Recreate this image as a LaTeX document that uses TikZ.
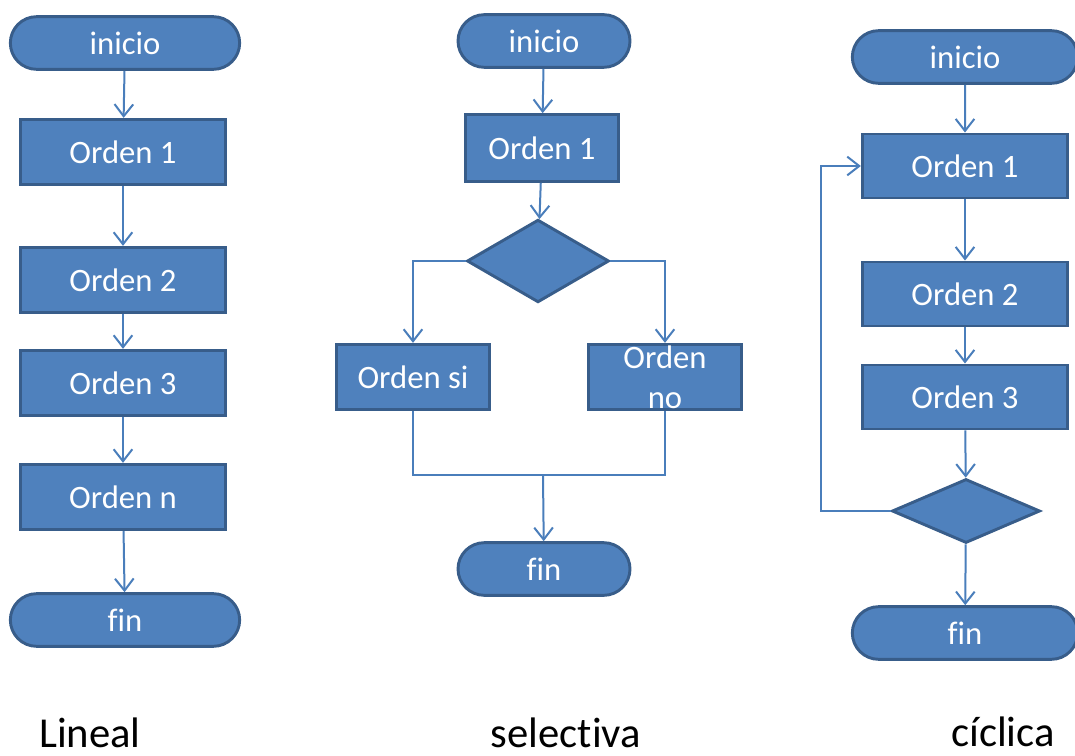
\documentclass[tikz,border=0pt]{standalone}
\usepackage{fontspec}
\setmainfont[Ligatures=NoCommon]{Carlito}
\usetikzlibrary{shapes.geometric,shapes.misc,arrows.meta}
\definecolor{boxfill}{HTML}{4F81BD}
\definecolor{boxline}{HTML}{385D8A}
\definecolor{connline}{HTML}{4A7EBB}
\tikzset{
  base/.style={fill=boxfill, draw=boxline, line width=2.2pt, text=white,
    font=\fontsize{24.5}{30}\selectfont, inner sep=0pt},
  terminal/.style={base, rounded rectangle, minimum height=39.5pt},
  procbox/.style={base, rectangle, minimum height=49pt},
  decision/.style={base, diamond},
  conn/.style={draw=connline, line width=1.5pt,
    -{Straight Barb[length=9pt,width=14pt,line width=1.5pt]}},
  plainconn/.style={draw=connline, line width=1.5pt},
  caption/.style={font=\fontsize{32}{38}\selectfont, anchor=base}
}
\begin{document}
\begin{tikzpicture}[x=0.75pt,y=-0.75pt]
\useasboundingbox (0,0) rectangle (1075,756);

% Lineal: straight sequence
\node[terminal, minimum width=172pt] (l0) at (125,43) {inicio};
\node[procbox, minimum width=154pt] (l1) at (123,152) {Orden 1};
\node[procbox, minimum width=154pt] (l2) at (123,280) {Orden 2};
\node[procbox, minimum width=154pt] (l3) at (123,383) {Orden 3};
\node[procbox, minimum width=154pt] (l4) at (123,497) {Orden n};
\node[terminal, minimum width=172pt] (l5) at (125,620) {fin};
\draw[conn] (l0) -- (l1);
\draw[conn] (l1) -- (l2);
\draw[conn] (l2) -- (l3);
\draw[conn] (l3) -- (l4);
\draw[conn] (l4) -- (l5);

% selectiva: branch and merge
\node[terminal, minimum width=129pt] (s0) at (544,41) {inicio};
\node[procbox, minimum width=115pt, minimum height=50pt] (s1) at (542,148) {Orden 1};
\node[decision, minimum width=106.5pt, minimum height=62pt] (sd) at (538,261) {};
\node[procbox, minimum width=115pt] (ssi) at (413,377) {Orden si};
\node[procbox, minimum width=115pt, align=center] (sno) at (665,377) {Orden\\no};
\node[terminal, minimum width=129pt] (s5) at (544,569) {fin};
\coordinate (smerge) at (543,475);
\draw[conn] (s0) -- (s1);
\draw[conn] (s1) -- (sd);
\draw[conn] (sd.west) -| (ssi.north);
\draw[conn] (sd.east) -| (sno.north);
\draw[plainconn] (ssi.south) |- (smerge) -| (sno.south);
\draw[conn] (smerge) -- (s5);

% ciclica: loop back to the first step
\node[terminal, minimum width=169pt] (c0) at (965,57) {inicio};
\node[procbox, minimum width=154pt, minimum height=48pt] (c1) at (965,166) {Orden 1};
\node[procbox, minimum width=154pt, minimum height=48pt] (c2) at (965,294) {Orden 2};
\node[procbox, minimum width=154pt, minimum height=48pt] (c3) at (965,397) {Orden 3};
\node[decision, minimum width=111pt, minimum height=48pt] (cd) at (966,511) {};
\node[terminal, minimum width=169pt] (c5) at (965,633) {fin};
\coordinate (cloop) at (821,511);
\draw[conn] (c0) -- (c1);
\draw[conn] (c1) -- (c2);
\draw[conn] (c2) -- (c3);
\draw[conn] (c3) -- (cd);
\draw[conn] (cd.west) -- (cloop) |- (c1.west);
\draw[conn] (cd) -- (c5);

% captions
\node[caption] (capl) at (90,747) {Lineal};
\node[caption] (caps) at (566,747) {selectiva};
\node[caption] (capc) at (1003,746) {cíclica};
\end{tikzpicture}
\end{document}
